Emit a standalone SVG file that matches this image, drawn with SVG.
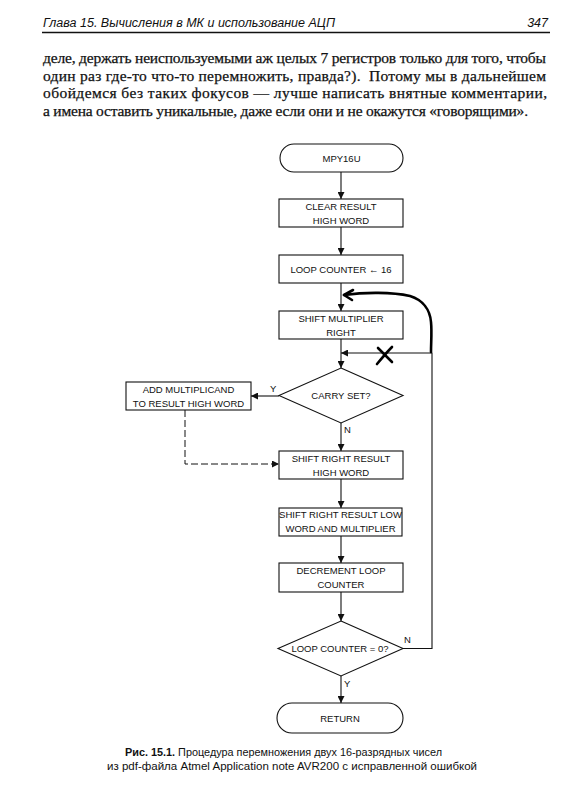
<svg xmlns="http://www.w3.org/2000/svg" width="584" height="800" viewBox="0 0 584 800">
<style>
.bg{fill:#fff}
.box{fill:#fff;stroke:#111;stroke-width:1.1}
.ln{fill:none;stroke:#111;stroke-width:1.1}
.dash{fill:none;stroke:#111;stroke-width:1;stroke-dasharray:7 3}
.hand{fill:none;stroke:#000;stroke-width:2.6;stroke-linecap:round;stroke-linejoin:round}
.t{font-family:"Liberation Sans",Arial,sans-serif;font-size:9.5px;fill:#111;text-anchor:middle}
.lbl{font-family:"Liberation Sans",Arial,sans-serif;font-size:9.5px;fill:#111}
.hdr{font-family:"Liberation Sans",Arial,sans-serif;font-size:12.5px;font-style:italic;fill:#111}
.body{font-family:"Liberation Serif","Times New Roman",serif;font-size:15.5px;fill:#111;stroke:#111;stroke-width:0.25}
.cap{font-family:"Liberation Sans",Arial,sans-serif;font-size:11.6px;fill:#111}
</style>
<defs>
<marker id="ar" viewBox="0 0 10 10" refX="10" refY="5" markerWidth="9" markerHeight="7" markerUnits="userSpaceOnUse" orient="auto">
<path d="M0,0 L10,5 L0,10 z" fill="#111"/>
</marker>
</defs>
<rect class="bg" x="0" y="0" width="584" height="800"/>

<g id="header">
<text class="hdr" x="43" y="27" textLength="292" lengthAdjust="spacingAndGlyphs">Глава 15. Вычисления в МК и использование АЦП</text>
<text class="hdr" x="548" y="27" text-anchor="end">347</text>
<line x1="42" y1="32.5" x2="550" y2="32.5" stroke="#111" stroke-width="1.6"/>
</g>

<g id="bodytext">
<text class="body" x="43" y="63" textLength="503" lengthAdjust="spacing">деле, держать неиспользуемыми аж целых 7 регистров только для того, чтобы</text>
<text class="body" x="43" y="80.5" textLength="503" lengthAdjust="spacing">один раз где-то что-то перемножить, правда?).&#160;&#160;Потому мы в дальнейшем</text>
<text class="body" x="43" y="98" textLength="504" lengthAdjust="spacing">обойдемся без таких фокусов — лучше написать внятные комментарии,</text>
<text class="body" x="43" y="115.5" textLength="485" lengthAdjust="spacing">а имена оставить уникальные, даже если они и не окажутся «говорящими».</text>
</g>

<g id="connectors">
<line class="ln" x1="341" y1="172" x2="341" y2="199" marker-end="url(#ar)"/>
<line class="ln" x1="341" y1="227" x2="341" y2="255" marker-end="url(#ar)"/>
<line class="ln" x1="341" y1="283" x2="341" y2="311" marker-end="url(#ar)"/>
<line class="ln" x1="341" y1="339" x2="341" y2="368" marker-end="url(#ar)"/>
<line class="ln" x1="341" y1="423" x2="341" y2="451" marker-end="url(#ar)"/>
<line class="ln" x1="341" y1="479" x2="341" y2="508" marker-end="url(#ar)"/>
<line class="ln" x1="341" y1="536" x2="341" y2="563" marker-end="url(#ar)"/>
<line class="ln" x1="341" y1="592" x2="341" y2="621" marker-end="url(#ar)"/>
<line class="ln" x1="341" y1="676" x2="341" y2="703" marker-end="url(#ar)"/>
<line class="ln" x1="279" y1="396" x2="251" y2="396" marker-end="url(#ar)"/>
<polyline class="dash" points="185,410 185,464 279,464" marker-end="url(#ar)"/>
<polyline class="ln" points="403,648.5 432,648.5 432,353 341,353" marker-end="url(#ar)"/>
<path class="hand" d="M344,295 C365,292 392,292 410,296 C423,300 430,310 431,322 C432,332 431,342 431,352"/>
<path class="hand" d="M353,290 L344,295 L352,300"/>
<path class="hand" d="M378,348 L392,362 M377,364 C382,358 387,352 392,347"/>
</g>

<g id="n-start">
<rect class="box" x="280" y="144" width="123" height="28" rx="14"/>
<text class="t" x="341.5" y="161.5">MPY16U</text>
</g>
<g id="n-clear">
<rect class="box" x="279" y="199" width="124" height="28"/>
<text class="t" x="341" y="210">CLEAR RESULT</text>
<text class="t" x="341" y="224">HIGH WORD</text>
</g>
<g id="n-loop">
<rect class="box" x="279" y="255" width="124" height="28"/>
<text class="t" x="341" y="273">LOOP COUNTER ←  16</text>
</g>
<g id="n-shiftmul">
<rect class="box" x="279" y="311" width="124" height="28"/>
<text class="t" x="341" y="322">SHIFT MULTIPLIER</text>
<text class="t" x="341" y="336">RIGHT</text>
</g>
<g id="n-carry">
<polygon class="box" points="341,368 403,395.5 341,423 279,395.5"/>
<text class="t" x="341" y="399">CARRY SET?</text>
<text class="lbl" x="270" y="392">Y</text>
<text class="lbl" x="344" y="433">N</text>
</g>
<g id="n-add">
<rect class="box" x="126" y="382" width="125" height="28"/>
<text class="t" x="188.5" y="393">ADD MULTIPLICAND</text>
<text class="t" x="188.5" y="407">TO RESULT HIGH WORD</text>
</g>
<g id="n-shrhigh">
<rect class="box" x="279" y="451" width="124" height="28"/>
<text class="t" x="341" y="462">SHIFT RIGHT RESULT</text>
<text class="t" x="341" y="476">HIGH WORD</text>
</g>
<g id="n-shrlow">
<rect class="box" x="279" y="508" width="123" height="28"/>
<text class="t" x="340.5" y="518">SHIFT RIGHT RESULT LOW</text>
<text class="t" x="340.5" y="532">WORD AND MULTIPLIER</text>
</g>
<g id="n-dec">
<rect class="box" x="279" y="563" width="124" height="29"/>
<text class="t" x="341" y="574">DECREMENT LOOP</text>
<text class="t" x="341" y="588">COUNTER</text>
</g>
<g id="n-zero">
<polygon class="box" points="341,621 403,648.5 341,676 278,648.5"/>
<text class="t" x="340" y="652">LOOP COUNTER = 0?</text>
<text class="lbl" x="404" y="643">N</text>
<text class="lbl" x="344" y="687">Y</text>
</g>
<g id="n-return">
<rect class="box" x="277" y="703" width="126" height="30" rx="15"/>
<text class="t" x="340" y="722">RETURN</text>
</g>

<g id="caption">
<text class="cap" x="125" y="756" textLength="317" lengthAdjust="spacingAndGlyphs"><tspan font-weight="bold">Рис. 15.1.</tspan> Процедура перемножения двух 16-разрядных чисел</text>
<text class="cap" x="107" y="770" textLength="370" lengthAdjust="spacingAndGlyphs">из pdf-файла Atmel Application note AVR200 с исправленной ошибкой</text>
</g>
</svg>
